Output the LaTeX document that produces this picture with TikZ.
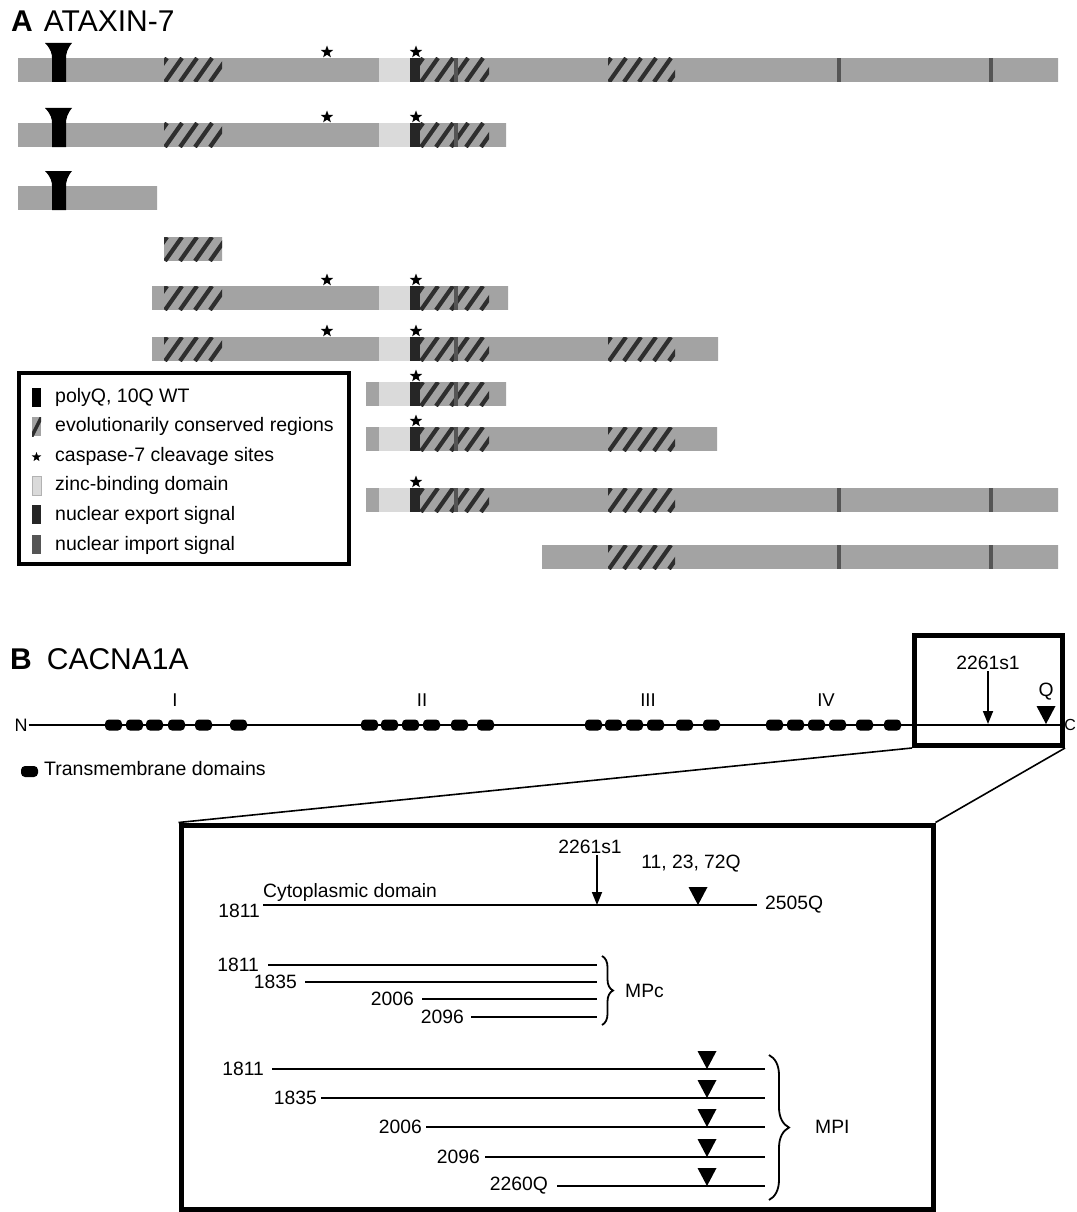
\documentclass[tikz,border=0pt]{standalone}
\usepackage{fontspec}
\setmainfont{Liberation Sans}
\usetikzlibrary{shapes.geometric,arrows.meta,decorations.pathreplacing}
\definecolor{barg}{HTML}{A3A3A3}
\definecolor{zincg}{HTML}{DADADA}
\definecolor{nesg}{HTML}{262626}
\definecolor{nisg}{HTML}{555555}
\definecolor{hatchg}{HTML}{2E2E2E}
\tikzset{
  hatchline/.style={line width=4.2pt, draw=hatchg},
  casp/.style={star, star points=5, star point ratio=2.4, fill=black, draw=none, inner sep=0pt, minimum size=13pt},
  lgd/.style={anchor=west, inner sep=0pt, font=\fontsize{19.5}{22}\selectfont},
  lab/.style={inner sep=1pt, font=\fontsize{19.3}{22}\selectfont},
  roman/.style={inner sep=1pt, font=\fontsize{18.5}{21}\selectfont},
  ln/.style={line width=1.7pt},
  arr/.style={line width=1.7pt, -{Triangle[length=13pt,width=10pt]}},
  brc/.style={line width=1.8pt, decorate, decoration={brace, amplitude=#1}},
  frame/.style={draw, line width=5pt, inner sep=0pt, fill=none},
  tmbox/.style={fill=black, rounded corners=4pt}
}
\newcommand{\hatchreg}[3]{%
  \begin{scope}
    \clip (#1,#3) rectangle (#2,#3+24);
    \foreach \s in {-14,1,16,31,46,61,76}{\draw[hatchline] ({#1+\s},{#3+24}) -- ++(17,-24);}
  \end{scope}}
\newcommand{\prow}[4]{%
  \begin{scope}
    \clip (#1,#3-22) rectangle (#2,#3+24);
    \fill[barg] (0,#3) rectangle (1076,#3+24);
    \hatchreg{164}{222}{#3}
    \fill[zincg] (379,#3) rectangle (410,#3+24);
    \fill[nesg] (410,#3) rectangle (420,#3+24);
    \hatchreg{420}{489}{#3}
    \fill[nisg] (454,#3) rectangle (458,#3+24);
    \hatchreg{608}{675}{#3}
    \fill[nisg] (837,#3) rectangle (841,#3+24);
    \fill[nisg] (989,#3) rectangle (993,#3+24);
    \node[casp] (csa#4) at (327,#3-6) {};
    \node[casp] (csb#4) at (416,#3-6) {};
    \fill[black] (45,#3-15) -- (72,#3-15) .. controls (67,#3-9) and (66,#3-4) .. (66,#3) -- (66,#3+24) -- (52,#3+24) -- (52,#3) .. controls (52,#3-4) and (51,#3-9) .. (45,#3-15) -- cycle;
  \end{scope}}
\newcommand{\qtri}[2]{\fill[black] (#1-9.5,#2-18) -- (#1+9.5,#2-18) -- (#1,#2) -- cycle;}
\begin{document}
\begin{tikzpicture}[x=1pt,y=-1pt]
\useasboundingbox (0,0) rectangle (1076,1212);
\fill[white] (0,0) rectangle (1076,1212);

% ---------------- Panel A ----------------
\node[anchor=base west, inner sep=0pt, font=\fontsize{30}{34}\selectfont] (titleA) at (11,32) {\textbf{A}\hspace{11pt}ATAXIN-7};

\prow{18}{1058}{58}{r1}
\prow{18}{506}{123}{r2}
\prow{18}{157}{186}{r3}
\prow{164}{222}{237}{r4}
\prow{152}{508}{286}{r5}
\prow{152}{718}{337}{r6}
\prow{366}{506}{382}{r7}
\prow{366}{717}{427}{r8}
\prow{366}{1058}{488}{r9}
\prow{542}{1058}{545}{r10}

% legend
\node[frame, minimum width=330pt, minimum height=191pt, line width=4.5pt] (legend) at (184,468.5) {};
\fill[black] (32,388) rectangle (41,407);
\begin{scope}
  \clip (32,417) rectangle (41,436);
  \fill[barg] (32,417) rectangle (41,436);
  \draw[hatchg, line width=3.5pt] (31,438) -- (43,414);
\end{scope}
\node[casp, minimum size=10pt] (lgstar) at (36.5,457) {};
\fill[zincg, draw=black!30, line width=0.6pt] (32,476) rectangle (41,495);
\fill[nesg] (32,505) rectangle (41,524);
\fill[nisg] (32,535) rectangle (41,554);
\node[lgd] (lg1) at (55,397) {polyQ, 10Q WT};
\node[lgd] (lg2) at (55,426) {evolutionarily conserved regions};
\node[lgd] (lg3) at (55,456) {caspase-7 cleavage sites};
\node[lgd] (lg4) at (55,485) {zinc-binding domain};
\node[lgd] (lg5) at (55,515) {nuclear export signal};
\node[lgd] (lg6) at (55,545) {nuclear import signal};

% ---------------- Panel B ----------------
\node[anchor=base west, inner sep=0pt, font=\fontsize{30}{34}\selectfont] (titleB) at (10,669) {\textbf{B}\hspace{15pt}CACNA1A};

\node[lab, font=\fontsize{18}{21}\selectfont] (N) at (21,725) {N};
\node[inner sep=0pt, anchor=east, font=\fontsize{16}{19}\selectfont] (C) at (1076,725) {C};
\draw[line width=1.4pt] (N) -- (C);

\foreach \x in {105,126,146,168,195,230, 361,381,402,423,451,477, 585,605,626,647,676,703, 766,787,808,829,856,884}
  {\fill[tmbox] (\x,719.5) rectangle ++(17,11);}
\node[roman] (d1) at (175,700) {I};
\node[roman] (d2) at (422,700) {II};
\node[roman] (d3) at (648,700) {III};
\node[roman] (d4) at (826,700) {IV};

\fill[tmbox] (21,766) rectangle (38,777);
\node[lgd] (tmlab) at (44,769) {Transmembrane domains};

% zoom box
\node[frame, minimum width=148pt, minimum height=110pt] (zbox) at (988.5,690.5) {};
\node[lab] (s1top) at (988,663) {2261s1};
\coordinate (t1top) at (988,724);
\draw[arr] (s1top.south -| t1top) -- (t1top);
\node[lab] (qtop) at (1046,692) {Q};
\qtri{1046}{724}

% inset
\node[frame, minimum width=752pt, minimum height=384pt] (inset) at (557,1017) {};
\draw[line width=1.6pt] (zbox.south west) -- (inset.north west);
\draw[line width=1.6pt] (zbox.south east) -- (inset.north east);

% cytoplasmic domain line
\coordinate (a0) at (263,905);
\coordinate (b0) at (757,905);
\draw[ln] (a0) -- (b0);
\node[lab, anchor=east] (l0) at (261,911) {1811};
\node[lab, anchor=west] (e0) at (764,905) {2505Q};
\node[lab, anchor=south west, inner sep=0pt] (cyt) at (263,902) {Cytoplasmic domain};
\node[lab] (s1) at (590,847) {2261s1};
\coordinate (t1) at (597,905);
\draw[arr] (s1.south -| t1) -- (t1);
\node[lab] (qlab) at (691,864) {11, 23, 72Q};
\qtri{698}{905}

% MPc
\foreach \y/\xs/\nm/\xl in {965/268/1811/259, 982/305/1835/297, 999/422/2006/414, 1017/471/2096/464}{
  \coordinate (mpcA\nm) at (\xs,\y);
  \coordinate (mpcB\nm) at (597,\y);
  \draw[ln] (mpcA\nm) -- (mpcB\nm);
  \node[lab, anchor=east] (mpcL\nm) at (\xl+1,\y) {\nm};
}
\draw[brc=11pt] (602,956) -- (602,1025);
\node[lab, anchor=west] (mpc) at (624,991) {MPc};

% MPI
\foreach \y/\xs/\nm/\xl in {1069/272/1811/264, 1098/321/1835/317, 1127/426/2006/422, 1157/485/2096/480, 1186/557/2260Q/548}{
  \coordinate (mpiA\nm) at (\xs,\y);
  \coordinate (mpiB\nm) at (765,\y);
  \draw[ln] (mpiA\nm) -- (mpiB\nm);
  \node[lab, anchor=east] (mpiL\nm) at (\xl+1,\y) {\nm};
  \qtri{707}{\y}
}
\draw[brc=20pt] (769,1055) -- (769,1200);
\node[lab, anchor=west] (mpi) at (814,1127) {MPI};
\end{tikzpicture}
\end{document}
